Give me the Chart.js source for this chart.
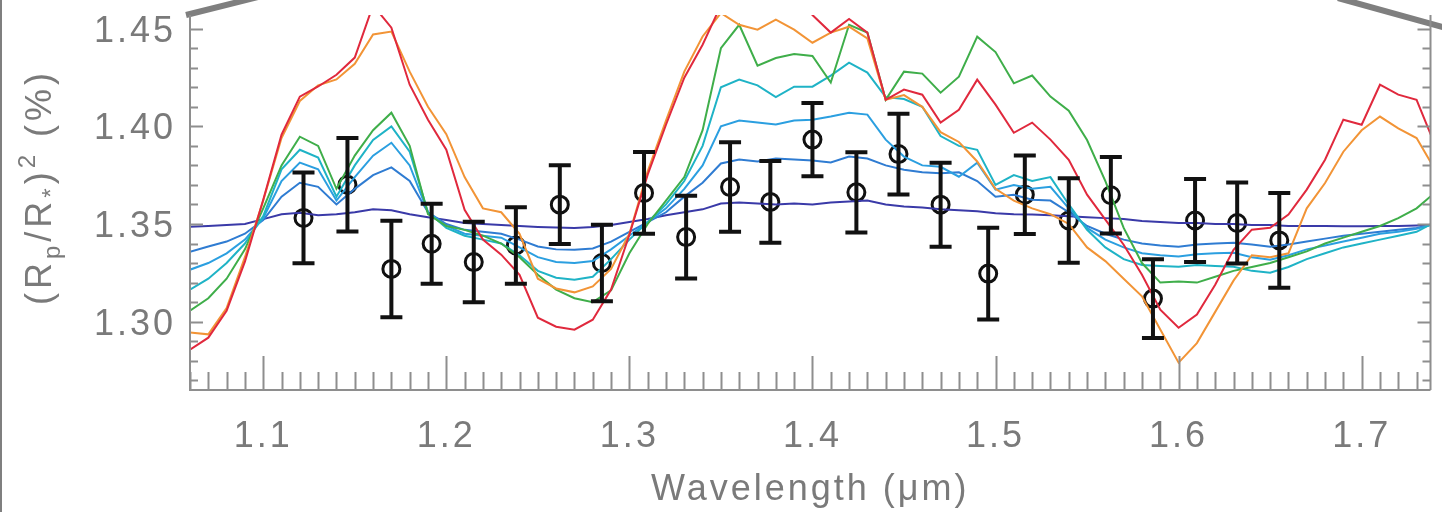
<!DOCTYPE html>
<html>
<head>
<meta charset="utf-8">
<title>Transmission spectrum</title>
<script src="https://cdn.jsdelivr.net/npm/chart.js@4.4.1/dist/chart.umd.min.js"></script>
<style>
  html, body { margin: 0; padding: 0; background: #fff; }
  #wrap { width: 1442px; height: 512px; }
</style>
</head>
<body>
<div id="wrap"><canvas id="spec" width="1442" height="512"></canvas></div>
<script>
// ---- model grid (um) ----
const modelWave = [1.06, 1.07, 1.08, 1.09, 1.10, 1.11, 1.12, 1.13, 1.14, 1.15,
  1.16, 1.17, 1.18, 1.19, 1.20, 1.21, 1.22, 1.23, 1.24, 1.25,
  1.26, 1.27, 1.28, 1.29, 1.30, 1.31, 1.32, 1.33, 1.34, 1.35,
  1.36, 1.37, 1.38, 1.39, 1.40, 1.41, 1.42, 1.43, 1.44, 1.45,
  1.46, 1.47, 1.48, 1.49, 1.50, 1.51, 1.52, 1.53, 1.54, 1.55,
  1.56, 1.57, 1.58, 1.59, 1.60, 1.61, 1.62, 1.63, 1.64, 1.65,
  1.66, 1.67, 1.68, 1.69, 1.70, 1.71, 1.72, 1.73, 1.74];

// ---- model spectra, (Rp/R*)^2 in % ----
const modelRed = [1.2856, 1.2918, 1.3056, 1.3307, 1.3624, 1.3957, 1.4152, 1.4204, 1.4264, 1.4352,
  1.4620, 1.4505, 1.4213, 1.4034, 1.3880, 1.3573, 1.3420, 1.3343, 1.3240, 1.3020,
  1.2974, 1.2959, 1.3010, 1.3164, 1.3445, 1.3752, 1.4008, 1.4249, 1.4418, 1.4620,
  1.4700, 1.4580, 1.4650, 1.4680, 1.4570, 1.4480, 1.4550, 1.4480, 1.4136, 1.4188,
  1.4162, 1.4019, 1.4085, 1.4239, 1.4111, 1.3967, 1.4019, 1.3932, 1.3829, 1.3650,
  1.3522, 1.3394, 1.3240, 1.3061, 1.2969, 1.3036, 1.3189, 1.3368, 1.3471, 1.3481,
  1.3548, 1.3676, 1.3829, 1.4034, 1.4008, 1.4213, 1.4162, 1.4136, 1.3906];

const modelOrange = [1.2945, 1.2935, 1.3070, 1.3330, 1.3620, 1.3940, 1.4130, 1.4210, 1.4240, 1.4320,
  1.4470, 1.4485, 1.4280, 1.4100, 1.3960, 1.3740, 1.3580, 1.3560, 1.3450, 1.3220,
  1.3170, 1.3150, 1.3180, 1.3270, 1.3450, 1.3770, 1.4030, 1.4280, 1.4460, 1.4580,
  1.4520, 1.4495, 1.4546, 1.4495, 1.4428, 1.4480, 1.4510, 1.4450, 1.4136, 1.4160,
  1.4100, 1.3970, 1.3920, 1.3820, 1.3680, 1.3620, 1.3580, 1.3550, 1.3500, 1.3380,
  1.3310, 1.3220, 1.3130, 1.2960, 1.2790, 1.2890, 1.3050, 1.3210, 1.3340, 1.3330,
  1.3350, 1.3580, 1.3710, 1.3870, 1.3980, 1.4050, 1.3990, 1.3940, 1.3780];

const modelGreen = [1.3056, 1.3120, 1.3220, 1.3370, 1.3580, 1.3800, 1.3947, 1.3900, 1.3680, 1.3850,
  1.3980, 1.4070, 1.3900, 1.3550, 1.3490, 1.3470, 1.3440, 1.3400, 1.3330, 1.3240,
  1.3164, 1.3120, 1.3100, 1.3160, 1.3350, 1.3500, 1.3620, 1.3740, 1.3980, 1.4400,
  1.4520, 1.4310, 1.4350, 1.4370, 1.4360, 1.4224, 1.4520, 1.4480, 1.4136, 1.4280,
  1.4270, 1.4172, 1.4254, 1.4459, 1.4380, 1.4220, 1.4260, 1.4152, 1.4080, 1.3930,
  1.3720, 1.3480, 1.3300, 1.3200, 1.3205, 1.3200, 1.3230, 1.3260, 1.3280, 1.3300,
  1.3330, 1.3360, 1.3400, 1.3430, 1.3460, 1.3490, 1.3530, 1.3580, 1.3660];

const modelTeal = [1.3164, 1.3220, 1.3300, 1.3400, 1.3540, 1.3780, 1.3880, 1.3840, 1.3640, 1.3800,
  1.3930, 1.4000, 1.3870, 1.3560, 1.3480, 1.3440, 1.3420, 1.3400, 1.3340, 1.3260,
  1.3225, 1.3215, 1.3230, 1.3320, 1.3420, 1.3510, 1.3600, 1.3720, 1.3900, 1.4200,
  1.4239, 1.4210, 1.4150, 1.4203, 1.4203, 1.4260, 1.4326, 1.4275, 1.4150, 1.4140,
  1.4100, 1.3950, 1.3900, 1.3880, 1.3700, 1.3750, 1.3720, 1.3740, 1.3600, 1.3470,
  1.3380, 1.3320, 1.3290, 1.3285, 1.3281, 1.3290, 1.3285, 1.3281, 1.3260, 1.3250,
  1.3280, 1.3320, 1.3350, 1.3380, 1.3400, 1.3420, 1.3440, 1.3460, 1.3510];

const modelSky = [1.3266, 1.3300, 1.3350, 1.3420, 1.3530, 1.3720, 1.3814, 1.3780, 1.3620, 1.3740,
  1.3850, 1.3916, 1.3800, 1.3560, 1.3490, 1.3450, 1.3440, 1.3430, 1.3380, 1.3330,
  1.3305, 1.3300, 1.3310, 1.3370, 1.3440, 1.3510, 1.3580, 1.3680, 1.3800, 1.4000,
  1.4030, 1.4019, 1.4010, 1.4030, 1.4034, 1.4050, 1.4070, 1.4060, 1.3932, 1.3845,
  1.3800, 1.3793, 1.3742, 1.3814, 1.3676, 1.3700, 1.3680, 1.3690, 1.3580, 1.3480,
  1.3420, 1.3380, 1.3350, 1.3340, 1.3333, 1.3345, 1.3350, 1.3353, 1.3330, 1.3317,
  1.3340, 1.3370, 1.3390, 1.3410, 1.3430, 1.3450, 1.3460, 1.3475, 1.3500];

const modelBlue = [1.3358, 1.3385, 1.3410, 1.3450, 1.3520, 1.3640, 1.3711, 1.3690, 1.3600, 1.3680,
  1.3750, 1.3790, 1.3720, 1.3560, 1.3500, 1.3470, 1.3460, 1.3450, 1.3420, 1.3385,
  1.3370, 1.3368, 1.3375, 1.3410, 1.3460, 1.3510, 1.3560, 1.3640, 1.3711, 1.3810,
  1.3830, 1.3820, 1.3835, 1.3830, 1.3825, 1.3815, 1.3845, 1.3835, 1.3800, 1.3778,
  1.3765, 1.3760, 1.3765, 1.3720, 1.3640, 1.3650, 1.3624, 1.3620, 1.3560, 1.3490,
  1.3450, 1.3420, 1.3400, 1.3390, 1.3384, 1.3395, 1.3400, 1.3404, 1.3395, 1.3384,
  1.3395, 1.3410, 1.3425, 1.3440, 1.3450, 1.3460, 1.3470, 1.3480, 1.3500];

const modelNavy = [1.3486, 1.3490, 1.3495, 1.3500, 1.3525, 1.3550, 1.3558, 1.3545, 1.3550, 1.3560,
  1.3575, 1.3570, 1.3550, 1.3535, 1.3520, 1.3505, 1.3500, 1.3495, 1.3490, 1.3485,
  1.3482, 1.3480, 1.3485, 1.3495, 1.3510, 1.3525, 1.3545, 1.3560, 1.3575, 1.3605,
  1.3610, 1.3605, 1.3600, 1.3605, 1.3600, 1.3610, 1.3615, 1.3620, 1.3600, 1.3590,
  1.3585, 1.3575, 1.3570, 1.3565, 1.3555, 1.3550, 1.3548, 1.3545, 1.3540, 1.3535,
  1.3530, 1.3525, 1.3515, 1.3510, 1.3505, 1.3505, 1.3500, 1.3500, 1.3495, 1.3495,
  1.3490, 1.3490, 1.3490, 1.3488, 1.3488, 1.3490, 1.3490, 1.3492, 1.3495];

// ---- measured transit depths ----
const obsWave = [1.122, 1.146, 1.170, 1.192, 1.215, 1.238, 1.262, 1.285, 1.308, 1.331, 1.355, 1.377,
  1.400, 1.424, 1.447, 1.470, 1.496, 1.516, 1.540, 1.563, 1.586, 1.609, 1.632, 1.655];
const obsDepth = [1.3531, 1.3701, 1.3270, 1.3399, 1.3305, 1.3390, 1.3599, 1.3300, 1.3659, 1.3433, 1.3689, 1.3613,
  1.3932, 1.3662, 1.3858, 1.3599, 1.3246, 1.3650, 1.3518, 1.3647, 1.3118, 1.3518, 1.3505, 1.3416];
const obsErr = [0.0232, 0.0239, 0.0247, 0.0205, 0.0206, 0.0196, 0.0202, 0.0196, 0.0209, 0.0212, 0.0229, 0.0209,
  0.0188, 0.0205, 0.0207, 0.0215, 0.0235, 0.0201, 0.0216, 0.0196, 0.0202, 0.0212, 0.0207, 0.0243];

// ---- axis ticks ----
const xMajorTicks = [1.1, 1.2, 1.3, 1.4, 1.5, 1.6, 1.7];
const yMajorTicks = [1.30, 1.35, 1.40, 1.45];
const xMinorStep = 0.01;
const yMinorStep = 0.01;

const AXIS_GREY = '#8e8e8e';
const LABEL_GREY = '#7a7a7a';
const FONT = '36px "Liberation Sans", Arial, sans-serif';
const SMALL_FONT = '24px "Liberation Sans", Arial, sans-serif';

function series(ys) {
  return modelWave.map((w, i) => ({ x: w, y: ys[i] }));
}

function modelLine(ys, color) {
  return {
    type: 'line',
    data: series(ys),
    borderColor: color,
    borderWidth: 2,
    pointRadius: 0,
    tension: 0,
    fill: false
  };
}

// error bars on the measurements, drawn over the model curves
const errorBars = {
  id: 'errorBars',
  afterDatasetsDraw(chart) {
    const { ctx, scales: { x, y } } = chart;
    ctx.save();
    ctx.strokeStyle = '#111';
    ctx.lineWidth = 4;
    ctx.lineCap = 'butt';
    obsWave.forEach((w, i) => {
      const px = x.getPixelForValue(w);
      const top = y.getPixelForValue(obsDepth[i] + obsErr[i]);
      const bot = y.getPixelForValue(obsDepth[i] - obsErr[i]);
      ctx.beginPath();
      ctx.moveTo(px, top); ctx.lineTo(px, bot);
      ctx.moveTo(px - 11, top); ctx.lineTo(px + 11, top);
      ctx.moveTo(px - 11, bot); ctx.lineTo(px + 11, bot);
      ctx.stroke();
    });
    ctx.restore();
  }
};

// IDL-style frame: inward ticks, grey labels, titles and the zoom callout lines
const frame = {
  id: 'frame',
  afterDraw(chart) {
    const { ctx, chartArea: a, scales: { x, y } } = chart;
    ctx.save();

    // callout lines from the panel above
    ctx.strokeStyle = '#7f7f7f';
    ctx.lineWidth = 6;
    ctx.beginPath();
    ctx.moveTo(186, 15); ctx.lineTo(262, -4);
    ctx.moveTo(1338, -2); ctx.lineTo(1446, 28);
    ctx.stroke();

    // page border on the left
    ctx.lineWidth = 2;
    ctx.beginPath();
    ctx.moveTo(1, 0); ctx.lineTo(1, 512);
    ctx.stroke();

    // axis lines
    ctx.strokeStyle = AXIS_GREY;
    ctx.lineWidth = 2;
    ctx.beginPath();
    ctx.moveTo(a.left, a.top); ctx.lineTo(a.left, a.bottom); ctx.lineTo(a.right, a.bottom);
    ctx.moveTo(a.right, a.top); ctx.lineTo(a.right, a.bottom);
    ctx.stroke();

    // x ticks
    ctx.beginPath();
    for (let k = 106; k <= 173; k++) {
      const px = Math.round(x.getPixelForValue(k * xMinorStep)) + 0.5;
      const len = k % 10 === 0 ? 34 : 18;
      ctx.moveTo(px, a.bottom); ctx.lineTo(px, a.bottom - len);
    }
    // y ticks, left and right
    for (let k = 127; k <= 145; k++) {
      const py = Math.round(y.getPixelForValue(k * yMinorStep)) + 0.5;
      const len = k % 5 === 0 ? 13 : 8;
      ctx.moveTo(a.left, py); ctx.lineTo(a.left + len, py);
      ctx.moveTo(a.right, py); ctx.lineTo(a.right - len, py);
    }
    ctx.stroke();

    // tick labels
    ctx.fillStyle = LABEL_GREY;
    ctx.font = FONT;
    if ('letterSpacing' in ctx) ctx.letterSpacing = '3px';
    ctx.textBaseline = 'middle';
    ctx.textAlign = 'right';
    yMajorTicks.forEach(v => {
      ctx.fillText(v.toFixed(2), 176, y.getPixelForValue(v) + 3);
    });
    ctx.textAlign = 'center';
    xMajorTicks.forEach(v => {
      ctx.fillText(v.toFixed(1), x.getPixelForValue(v), 437);
    });

    // x title
    ctx.textBaseline = 'alphabetic';
    ctx.fillText('Wavelength (\u03bcm)', (a.left + a.right) / 2, 500);

    // y title, rotated: (Rp/R*)^2 (%)
    if ('letterSpacing' in ctx) ctx.letterSpacing = '4px';
    ctx.translate(51, 187);
    ctx.rotate(-Math.PI / 2);
    const parts = [
      ['(', FONT, 0], ['R', FONT, 0], ['p', SMALL_FONT, 9], ['/', FONT, 0], ['R', FONT, 0],
      ['*', SMALL_FONT, 8], [')', FONT, 0], ['2', SMALL_FONT, -16], [' (%)', FONT, 0]
    ];
    ctx.textAlign = 'left';
    let total = 0;
    parts.forEach(p => { ctx.font = p[1]; total += ctx.measureText(p[0]).width; });
    let cx = -total / 2;
    parts.forEach(p => {
      ctx.font = p[1];
      ctx.fillText(p[0], cx, p[2]);
      cx += ctx.measureText(p[0]).width;
    });

    ctx.restore();
  }
};

const ctx = document.getElementById('spec').getContext('2d');
new Chart(ctx, {
  type: 'line',
  data: {
    datasets: [
      modelLine(modelRed, '#e0293d'),
      modelLine(modelOrange, '#f29436'),
      modelLine(modelGreen, '#3fae4a'),
      modelLine(modelTeal, '#1fb3c6'),
      modelLine(modelSky, '#2b9fe0'),
      modelLine(modelBlue, '#2f7cd2'),
      modelLine(modelNavy, '#3a3aa8'),
      {
        type: 'scatter',
        data: obsWave.map((w, i) => ({ x: w, y: obsDepth[i] })),
        showLine: false,
        pointRadius: 8.5,
        pointBorderWidth: 3,
        pointBorderColor: '#111',
        pointBackgroundColor: 'rgba(0,0,0,0)'
      }
    ]
  },
  options: {
    responsive: false,
    animation: false,
    layout: { padding: { top: 15, right: 1, left: 0, bottom: 0 } },
    scales: {
      x: {
        type: 'linear',
        min: 1.06,
        max: 1.7376,
        grid: { display: false },
        border: { display: false },
        ticks: { display: false },
        afterFit: s => { s.height = 122; }
      },
      y: {
        type: 'linear',
        min: 1.265,
        max: 1.457,
        grid: { display: false },
        border: { display: false },
        ticks: { display: false },
        afterFit: s => { s.width = 190; }
      }
    },
    plugins: {
      legend: { display: false },
      tooltip: { enabled: false }
    }
  },
  plugins: [errorBars, frame]
});
</script>
</body>
</html>
